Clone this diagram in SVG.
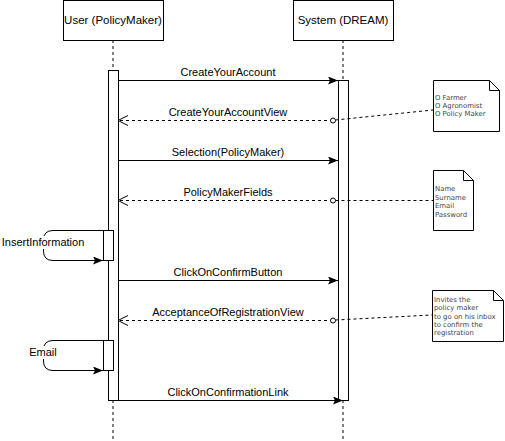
<svg xmlns="http://www.w3.org/2000/svg" width="505" height="441" viewBox="0 0 505 441">
<style>
.box{fill:#fff;stroke:#000;stroke-width:1}
.life{stroke:#000;stroke-width:1;stroke-dasharray:3 3;fill:none}
.msg{stroke:#000;stroke-width:1;fill:none}
.ret{stroke:#000;stroke-width:1;stroke-dasharray:3 3;fill:none}
.t{font-family:"Liberation Sans",Arial,sans-serif;font-size:11px;fill:#000;text-anchor:middle}
.h{font-family:"Liberation Sans",Arial,sans-serif;font-size:11.5px;fill:#000;text-anchor:middle}
.n{font-family:"DejaVu Sans",Verdana,sans-serif;font-size:6.9px;fill:#444}
</style>
<defs>
<marker id="fill" viewBox="0 0 10 8" refX="10" refY="4" markerWidth="10" markerHeight="8" markerUnits="userSpaceOnUse" orient="auto">
<path d="M0,0 L10,4 L0,8 L2,4 Z" fill="#000"/>
</marker>
<marker id="open" viewBox="0 0 12 12" refX="11" refY="6" markerWidth="12" markerHeight="12" markerUnits="userSpaceOnUse" orient="auto">
<path d="M1,1 L11,6 L1,11" fill="none" stroke="#000" stroke-width="1"/>
</marker>
<marker id="circ" viewBox="0 0 8 8" refX="4" refY="4" markerWidth="8" markerHeight="8" markerUnits="userSpaceOnUse">
<circle cx="4" cy="4" r="2.5" fill="#fff" stroke="#000" stroke-width="1"/>
</marker>
</defs>
<rect width="505" height="441" fill="#fff"/>
<g id="user">
<line class="life" x1="113" y1="40" x2="113" y2="441"/>
<rect class="box" x="63.5" y="0.5" width="100" height="40"/>
<text class="h" x="113" y="24">User (PolicyMaker)</text>
<rect class="box" x="108.5" y="70.5" width="10" height="330"/>
</g>
<g id="system">
<line class="life" x1="343" y1="40" x2="343" y2="441"/>
<rect class="box" x="293.5" y="0.5" width="100" height="40"/>
<text class="h" x="343" y="24">System (DREAM)</text>
<rect class="box" x="338.5" y="80.5" width="10" height="320"/>
</g>
<g id="connectors">
<line class="msg" x1="118" y1="80.5" x2="338" y2="80.5" marker-end="url(#fill)"/>
<text class="t" x="228" y="76">CreateYourAccount</text>
<line class="ret" x1="333" y1="120.5" x2="118" y2="120.5" marker-start="url(#circ)" marker-end="url(#open)"/>
<text class="t" x="228" y="116">CreateYourAccountView</text>
<line class="msg" x1="118" y1="160.5" x2="338" y2="160.5" marker-end="url(#fill)"/>
<text class="t" x="228" y="156">Selection(PolicyMaker)</text>
<line class="ret" x1="333" y1="200.5" x2="118" y2="200.5" marker-start="url(#circ)" marker-end="url(#open)"/>
<text class="t" x="228" y="196">PolicyMakerFields</text>
<line class="msg" x1="118" y1="280.5" x2="338" y2="280.5" marker-end="url(#fill)"/>
<text class="t" x="228" y="276">ClickOnConfirmButton</text>
<line class="ret" x1="333" y1="320.5" x2="118" y2="320.5" marker-start="url(#circ)" marker-end="url(#open)"/>
<text class="t" x="228" y="316">AcceptanceOfRegistrationView</text>
<line class="msg" x1="108" y1="400.5" x2="343" y2="400.5" marker-end="url(#fill)"/>
<text class="t" x="228" y="396">ClickOnConfirmationLink</text>
<path class="ret" d="M335.5,120 L433,110"/>
<path class="ret" d="M335.5,200.5 L433,200.5"/>
<path class="ret" d="M335.5,320 L432,315"/>
<path class="msg" d="M103,230.5 L53,230.5 Q43.5,230.5 43.5,240 L43.5,251 Q43.5,260.5 53,260.5 L103,260.5" marker-end="url(#fill)"/>
<path class="msg" d="M103,340.5 L53,340.5 Q43.5,340.5 43.5,350 L43.5,361 Q43.5,370.5 53,370.5 L103,370.5" marker-end="url(#fill)"/>
</g>
<g id="insert">
<rect class="box" x="103.5" y="230.5" width="10" height="30"/>
<rect x="3" y="236" width="80" height="13" fill="#fff"/>
<text class="t" x="43" y="246">InsertInformation</text>
</g>
<g id="email">
<rect class="box" x="103.5" y="340.5" width="10" height="30"/>
<rect x="27" y="346" width="32" height="13" fill="#fff"/>
<text class="t" x="43" y="356">Email</text>
</g>
<g id="note1">
<path class="box" d="M433.5,80.5 L489.5,80.5 L499.5,90.5 L499.5,131.5 L433.5,131.5 Z"/>
<path d="M489.5,80.5 L489.5,90.5 L499.5,90.5" fill="none" stroke="#000"/>
<text class="n" x="435" y="100">O Farmer</text>
<text class="n" x="435" y="108">O Agronomist</text>
<text class="n" x="435" y="116">O Policy Maker</text>
</g>
<g id="note2">
<path class="box" d="M433.5,170.5 L463.5,170.5 L473.5,180.5 L473.5,230.5 L433.5,230.5 Z"/>
<path d="M463.5,170.5 L463.5,180.5 L473.5,180.5" fill="none" stroke="#000"/>
<text class="n" x="435" y="191">Name</text>
<text class="n" x="435" y="199.5">Surname</text>
<text class="n" x="435" y="208">Email</text>
<text class="n" x="435" y="216.5">Password</text>
</g>
<g id="note3">
<path class="box" d="M432.5,290.5 L493.5,290.5 L503.5,300.5 L503.5,341.5 L432.5,341.5 Z"/>
<path d="M493.5,290.5 L493.5,300.5 L503.5,300.5" fill="none" stroke="#000"/>
<text class="n" x="434" y="302">Invites the</text>
<text class="n" x="434" y="310">policy maker</text>
<text class="n" x="434" y="318.5">to go on his inbox</text>
<text class="n" x="434" y="327">to confirm the</text>
<text class="n" x="434" y="335">registration</text>
</g>
</svg>
